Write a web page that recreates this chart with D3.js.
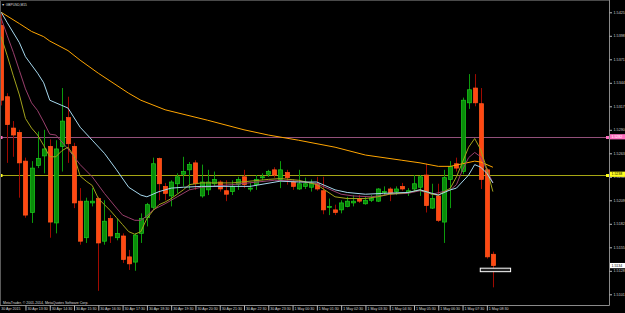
<!DOCTYPE html>
<html>
<head>
<meta charset="utf-8">
<script src="https://cdn.jsdelivr.net/npm/d3@7"></script>
<style>
  body { margin: 0; background: #000; }
  svg { display: block; }
  text { font-family: "Liberation Sans", Arial, sans-serif; }
</style>
</head>
<body>
<svg id="chart" width="625" height="313"></svg>
<script>
// GBPUSD M15, 30 Apr 12:30 .. 1 May 08:45
const timeLabels = ['30 Apr 2015', '30 Apr 13:30', '30 Apr 14:30', '30 Apr 15:30', '30 Apr 16:30',
  '30 Apr 17:30', '30 Apr 18:30', '30 Apr 19:30', '30 Apr 20:30', '30 Apr 21:30', '30 Apr 22:30',
  '30 Apr 23:30', '1 May 00:30', '1 May 01:30', '1 May 02:30', '1 May 03:30', '1 May 04:30',
  '1 May 05:30', '1 May 06:30', '1 May 07:30', '1 May 08:30'];
const timeTickBars = [0, 4, 8, 12, 16, 20, 24, 28, 32, 36, 40, 44, 48, 52, 56, 60, 64, 68, 72, 76, 80];
const priceTicks = [1.5425, 1.5398, 1.5371, 1.5344, 1.5317, 1.5290, 1.5263, 1.5236, 1.5209, 1.5182, 1.5155, 1.5128, 1.5101];

const open = [1.5410, 1.5328, 1.5292, 1.5287, 1.5254, 1.5195, 1.5249, 1.5260, 1.5271, 1.5183,
  1.5271, 1.5304, 1.5271, 1.5208, 1.5166, 1.5206, 1.5211, 1.5162, 1.5188, 1.5166,
  1.5168, 1.5144, 1.5138, 1.5171, 1.5189, 1.5201, 1.5257, 1.5225, 1.5214, 1.5228,
  1.5239, 1.5244, 1.5252, 1.5214, 1.5221, 1.5228, 1.5230, 1.5220, 1.5219, 1.5227,
  1.5236, 1.5222, 1.5227, 1.5235, 1.5239, 1.5244, 1.5233, 1.5241, 1.5230, 1.5222,
  1.5225, 1.5224, 1.5228, 1.5220, 1.5201, 1.5198, 1.5198, 1.5202, 1.5206, 1.5211,
  1.5205, 1.5209, 1.5208, 1.5218, 1.5222, 1.5219, 1.5225, 1.5218, 1.5222, 1.5224,
  1.5238, 1.5200, 1.5214, 1.5184, 1.5233, 1.5251, 1.5242, 1.5321, 1.5338, 1.5320,
  1.5244, 1.5147];
const high = [1.5423, 1.5332, 1.5300, 1.5290, 1.5258, 1.5254, 1.5288, 1.5290, 1.5279, 1.5278,
  1.5338, 1.5328, 1.5275, 1.5223, 1.5212, 1.5223, 1.5213, 1.5209, 1.5192, 1.5188,
  1.5171, 1.5152, 1.5171, 1.5194, 1.5206, 1.5258, 1.5258, 1.5229, 1.5232, 1.5240,
  1.5259, 1.5253, 1.5255, 1.5250, 1.5244, 1.5242, 1.5232, 1.5232, 1.5232, 1.5236,
  1.5244, 1.5229, 1.5238, 1.5240, 1.5244, 1.5247, 1.5254, 1.5244, 1.5233, 1.5244,
  1.5235, 1.5233, 1.5236, 1.5236, 1.5211, 1.5204, 1.5209, 1.5213, 1.5215, 1.5215,
  1.5213, 1.5215, 1.5223, 1.5225, 1.5224, 1.5225, 1.5229, 1.5223, 1.5238, 1.5238,
  1.5251, 1.5228, 1.5228, 1.5244, 1.5254, 1.5258, 1.5327, 1.5354, 1.5354, 1.5338,
  1.5246, 1.5150];
const low = [1.5318, 1.5252, 1.5259, 1.5212, 1.5189, 1.5183, 1.5246, 1.5240, 1.5166, 1.5171,
  1.5242, 1.5252, 1.5200, 1.5158, 1.5160, 1.5202, 1.5105, 1.5158, 1.5160, 1.5163,
  1.5137, 1.5129, 1.5128, 1.5160, 1.5179, 1.5198, 1.5209, 1.5209, 1.5202, 1.5217,
  1.5225, 1.5221, 1.5221, 1.5212, 1.5215, 1.5225, 1.5219, 1.5208, 1.5215, 1.5221,
  1.5223, 1.5219, 1.5221, 1.5232, 1.5236, 1.5235, 1.5223, 1.5227, 1.5221, 1.5221,
  1.5222, 1.5219, 1.5220, 1.5193, 1.5192, 1.5192, 1.5194, 1.5201, 1.5202, 1.5206,
  1.5204, 1.5207, 1.5207, 1.5215, 1.5208, 1.5215, 1.5220, 1.5214, 1.5219, 1.5214,
  1.5195, 1.5199, 1.5184, 1.5160, 1.5200, 1.5242, 1.5239, 1.5314, 1.5317, 1.5222,
  1.5142, 1.5109];
const close = [1.5324, 1.5296, 1.5284, 1.5252, 1.5192, 1.5246, 1.5257, 1.5268, 1.5184, 1.5268,
  1.5300, 1.5274, 1.5206, 1.5162, 1.5208, 1.5208, 1.5160, 1.5185, 1.5168, 1.5171,
  1.5141, 1.5136, 1.5169, 1.5188, 1.5204, 1.5251, 1.5228, 1.5217, 1.5230, 1.5236,
  1.5242, 1.5250, 1.5228, 1.5230, 1.5230, 1.5233, 1.5222, 1.5216, 1.5225, 1.5233,
  1.5227, 1.5223, 1.5233, 1.5236, 1.5242, 1.5238, 1.5244, 1.5235, 1.5225, 1.5228,
  1.5228, 1.5229, 1.5222, 1.5198, 1.5202, 1.5195, 1.5206, 1.5208, 1.5208, 1.5208,
  1.5209, 1.5211, 1.5222, 1.5219, 1.5217, 1.5222, 1.5222, 1.5220, 1.5228, 1.5236,
  1.5203, 1.5211, 1.5186, 1.5235, 1.5248, 1.5246, 1.5324, 1.5336, 1.5321, 1.5233,
  1.5144, 1.5134];

// moving averages: [bar, price]
const maOrange = [[0, 1.5425], [3, 1.5412], [5, 1.5403], [7, 1.5397], [8, 1.5392], [11, 1.5381], [13, 1.5370],
  [16, 1.5355], [21, 1.5332], [23, 1.5324], [27, 1.5313], [34, 1.5301], [40, 1.5290], [44, 1.5284],
  [49, 1.5278], [55, 1.5270], [60, 1.5261], [66, 1.5255], [69, 1.5252], [72, 1.5248], [74, 1.5248],
  [76, 1.5251], [78, 1.5254], [79, 1.5253], [81, 1.5247]];
const maBlue = [[0, 1.5425], [1, 1.5413], [3, 1.5390], [4, 1.5374], [6, 1.5355], [7, 1.5344], [8, 1.5324],
  [10, 1.5318], [11, 1.5315], [13, 1.5293], [15, 1.5278], [17, 1.5263], [19, 1.5244], [21, 1.5224],
  [23, 1.5215], [24, 1.5213], [26, 1.5219], [28, 1.5223], [30, 1.5224], [33, 1.5225], [41, 1.5225],
  [46, 1.5231], [49, 1.5230], [52, 1.5230], [55, 1.5221], [57, 1.5218], [60, 1.5216], [63, 1.5217],
  [67, 1.5218], [69, 1.5221], [71, 1.5217], [72, 1.5215], [74, 1.5221], [75, 1.5223], [77, 1.5238],
  [78, 1.5250], [79, 1.5247], [80, 1.5240], [81, 1.5229]];
const maMaroon = [[0, 1.5418], [1, 1.5398], [2, 1.5379], [3, 1.5358], [4, 1.5337], [5, 1.5321], [6, 1.5312],
  [7, 1.5299], [8, 1.5285], [9, 1.5284], [10, 1.5276], [11, 1.5268], [12, 1.5259], [13, 1.5250],
  [15, 1.5236], [17, 1.5217], [19, 1.5200], [20, 1.5192], [21, 1.5189], [22, 1.5186], [23, 1.5186],
  [24, 1.5191], [25, 1.5198], [27, 1.5205], [29, 1.5213], [31, 1.5221], [33, 1.5224], [38, 1.5227],
  [45, 1.5232], [49, 1.5231], [52, 1.5228], [54, 1.5222], [56, 1.5216], [58, 1.5214], [61, 1.5213],
  [64, 1.5216], [67, 1.5217], [69, 1.5220], [71, 1.5216], [74, 1.5221], [75, 1.5227], [76, 1.5244],
  [77, 1.5258], [78, 1.5264], [79, 1.5259], [80, 1.5244], [81, 1.5229]];
const maOlive = [[0, 1.5397], [1, 1.5375], [2, 1.5352], [3, 1.5330], [4, 1.5303], [5, 1.5292], [6, 1.5284],
  [7, 1.5272], [8, 1.5259], [9, 1.5259], [10, 1.5266], [11, 1.5270], [12, 1.5260], [13, 1.5237],
  [14, 1.5231], [15, 1.5226], [16, 1.5211], [17, 1.5204], [18, 1.5197], [19, 1.5189], [20, 1.5181],
  [21, 1.5173], [22, 1.5170], [23, 1.5173], [24, 1.5188], [25, 1.5197], [26, 1.5204], [27, 1.5207],
  [28, 1.5211], [29, 1.5216], [30, 1.5221], [31, 1.5227], [32, 1.5228], [33, 1.5229], [34, 1.5229],
  [38, 1.5229], [44, 1.5233], [46, 1.5234], [49, 1.5232], [52, 1.5227], [55, 1.5213], [57, 1.5211],
  [60, 1.5211], [62, 1.5213], [64, 1.5216], [67, 1.5218], [69, 1.5221], [71, 1.5216], [72, 1.5215],
  [74, 1.5223], [75, 1.5236], [76, 1.5253], [77, 1.5270], [78, 1.5280], [79, 1.5267], [80, 1.5245],
  [81, 1.5219]];

const levelPink = 1.5282;
const levelYellow = 1.5238;
const boxBars = [79, 84];
const boxPrices = [1.5131, 1.5127];

const svg = d3.select('#chart');
const plotW = 609, plotH = 305;

const x = d3.scaleLinear().domain([0, 81]).range([1.2, 492.9]);
const y = d3.scaleLinear()
  .domain([priceTicks[priceTicks.length - 1], priceTicks[0]])
  .range([294.3, 12.3]);

svg.append('rect').attr('width', 625).attr('height', 313).attr('fill', '#000');

svg.append('clipPath').attr('id', 'plotclip')
  .append('rect').attr('width', plotW).attr('height', plotH);

const plot = svg.append('g').attr('clip-path', 'url(#plotclip)');

// horizontal lines
const levels = [
  { v: levelPink, line: '#93507a', box: '#ff6fc0' },
  { v: levelYellow, line: '#a6a614', box: '#ffff1e' }
];
levels.forEach(l => {
  const yy = Math.round(y(l.v)) + 0.5;
  plot.append('line')
    .attr('x1', 0).attr('x2', plotW)
    .attr('y1', yy).attr('y2', yy)
    .attr('stroke', l.line).attr('stroke-width', 1);
  plot.append('rect').attr('x', 0).attr('y', yy - 1.5).attr('width', 2.5).attr('height', 3).attr('fill', l.box);
  plot.append('rect').attr('x', 606).attr('y', yy - 1.5).attr('width', 3).attr('height', 3).attr('fill', l.box);
});

// candles
const bars = d3.range(open.length).map(i => ({ i, o: open[i], h: high[i], l: low[i], c: close[i] }));
const candle = plot.selectAll('.candle')
  .data(bars)
  .enter().append('g')
  .attr('class', 'candle');

candle.append('line')
  .attr('x1', d => Math.round(x(d.i)) + 0.5)
  .attr('x2', d => Math.round(x(d.i)) + 0.5)
  .attr('y1', d => y(d.h))
  .attr('y2', d => y(d.l))
  .attr('stroke', d => d.c >= d.o ? '#0c9a0c' : '#a00a00')
  .attr('stroke-width', 1);

candle.append('rect')
  .attr('x', d => Math.round(x(d.i)) - 1.6)
  .attr('y', d => y(Math.max(d.o, d.c)))
  .attr('width', 4.2)
  .attr('height', d => Math.max(1, Math.abs(y(d.o) - y(d.c))))
  .attr('fill', d => d.c >= d.o ? '#0a8c0a' : '#ff4812')
  .attr('stroke', d => d.c >= d.o ? '#1ccc1c' : '#ff5a1e')
  .attr('stroke-width', 0.7);

// moving averages
const line = d3.line().x(d => x(d[0])).y(d => y(d[1]));
[
  [maOrange, '#ffa500'],
  [maMaroon, '#9a3f6c'],
  [maOlive, '#a3a31c'],
  [maBlue, '#a6d8ee']
].forEach(([data, color]) => {
  plot.append('path')
    .datum(data)
    .attr('d', line)
    .attr('fill', 'none')
    .attr('stroke', color)
    .attr('stroke-width', 1);
});

// drawn rectangle near the last bar
plot.append('rect')
  .attr('x', x(boxBars[0]) - 0.5)
  .attr('y', y(boxPrices[0]))
  .attr('width', x(boxBars[1]) - x(boxBars[0]))
  .attr('height', y(boxPrices[1]) - y(boxPrices[0]))
  .attr('fill', '#222')
  .attr('stroke', '#fff')
  .attr('stroke-width', 1);

// frame
svg.append('line').attr('x1', 0.5).attr('x2', 0.5).attr('y1', 0).attr('y2', plotH).attr('stroke', '#5a5a5a');
svg.append('line').attr('x1', 0).attr('x2', plotW).attr('y1', 0.5).attr('y2', 0.5).attr('stroke', '#4a4a4a');

// price axis
const yAxis = svg.append('g')
  .attr('transform', 'translate(' + (plotW + 0.5) + ',0)')
  .call(d3.axisRight(y).tickValues(priceTicks).tickSize(2.5).tickPadding(1.5).tickFormat(d3.format('.4f')));
yAxis.select('.domain').attr('stroke', '#8a8a8a').attr('d', 'M0,0V' + (plotH + 0.5));
yAxis.selectAll('.tick line').attr('stroke', '#bbb');
yAxis.selectAll('text').attr('fill', '#cfcfcf').attr('font-size', 3.7);

// time axis
const xAxis = svg.append('g')
  .attr('transform', 'translate(0,' + (plotH + 0.5) + ')')
  .call(d3.axisBottom(x).tickValues(timeTickBars).tickSize(5).tickFormat((d, i) => timeLabels[i]));
xAxis.select('.domain').attr('stroke', '#8a8a8a').attr('d', 'M0,0H' + (plotW + 0.5));
xAxis.selectAll('.tick line').attr('stroke', '#bbb');
xAxis.selectAll('.tick line').filter((d, i) => i === 0).remove();
xAxis.selectAll('text')
  .attr('text-anchor', 'start')
  .attr('x', (d, i) => i === 0 ? -0.5 : 1.5)
  .attr('y', 2.2)
  .attr('dy', '0.71em')
  .attr('fill', '#d6d6d6')
  .attr('font-size', 3.6);

// price tags on the axis
const tags = [
  { v: levelPink, bg: '#ff6fc0', fg: '#fff', dy: 0 },
  { v: levelYellow, bg: '#ffff1e', fg: '#000', dy: -0.8 },
  { v: close[close.length - 1], bg: '#fff', fg: '#000', dy: 0 }
];
tags.forEach(t => {
  const yy = y(t.v) + t.dy;
  svg.append('rect').attr('x', plotW + 1).attr('y', yy - 2.6).attr('width', 15).attr('height', 5.2).attr('fill', t.bg);
  svg.append('text').attr('x', plotW + 2.5).attr('y', yy).attr('dy', '0.35em')
    .attr('font-size', 3.5).attr('fill', t.fg).text(d3.format('.4f')(t.v));
});

// captions
svg.append('text').attr('x', 1.5).attr('y', 6.3).attr('font-size', 3.3).attr('fill', '#ddd').text('\u25BC GBPUSD,M15');
svg.append('text').attr('x', 3).attr('y', 304).attr('font-size', 3.5).attr('fill', '#ddd')
  .text('MetaTrader, \u00A9 2001-2014, MetaQuotes Software Corp.');
</script>
</body>
</html>
